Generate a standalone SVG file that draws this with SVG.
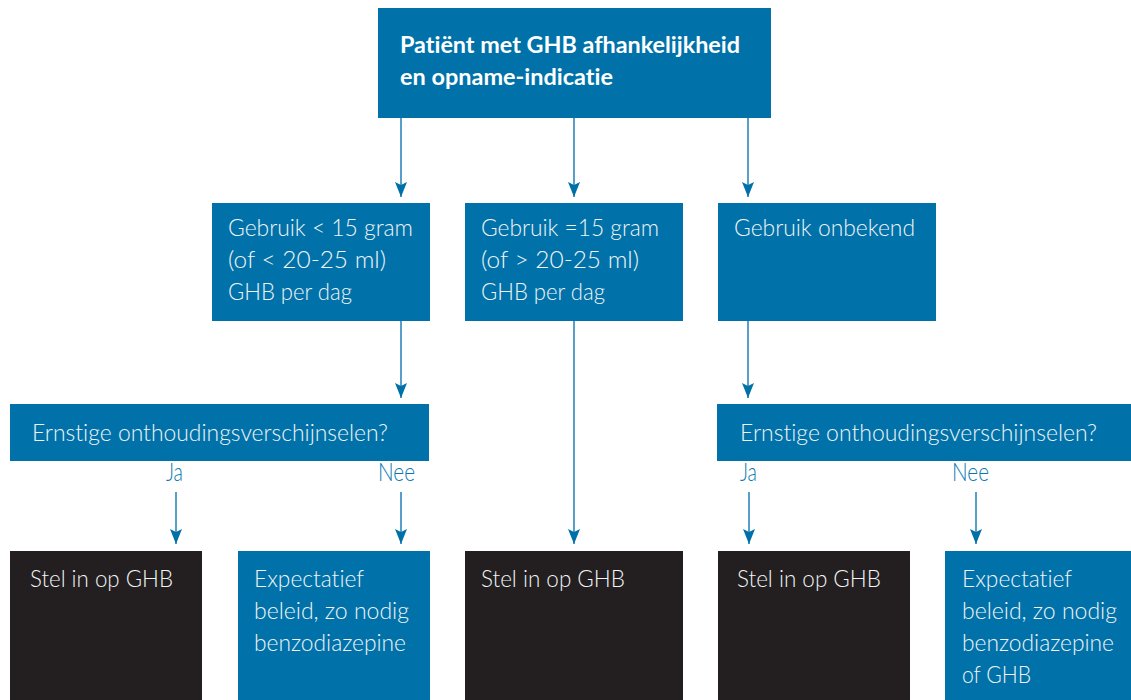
<svg xmlns="http://www.w3.org/2000/svg" width="1131" height="700" viewBox="0 0 1131 700">
<defs>
<marker id="ah" markerUnits="userSpaceOnUse" viewBox="0 -7 16 14" markerWidth="16" markerHeight="14" refX="15" refY="0" orient="auto">
<path d="M0,-6 L15,0 L0,6 L3,0 Z" fill="#0071a8"/>
</marker>
<style>
.blue{fill:#0072a9}
.dark{fill:#231f20}
text{font-variant-ligatures:none}
.t{font-family:Lato,"Open Sans","Liberation Sans",sans-serif;font-size:23px;font-weight:300;fill:#f2f4f6}
.tb{font-family:Lato,"Open Sans","Liberation Sans",sans-serif;font-size:23px;font-weight:bold;fill:#ffffff}
.lab{font-family:Lato,"Open Sans","Liberation Sans",sans-serif;font-size:25px;font-weight:300;fill:#0a78b0}
.c{stroke:#2e88bc;stroke-width:1.6;fill:none;marker-end:url(#ah)}
</style>
</defs>
<rect width="1131" height="700" fill="#ffffff"/>
<g id="connectors">
<line class="c" x1="401" y1="118" x2="401" y2="197"/>
<line class="c" x1="574" y1="118" x2="574" y2="197"/>
<line class="c" x1="748" y1="118" x2="748" y2="197"/>
<line class="c" x1="401" y1="321" x2="401" y2="398"/>
<line class="c" x1="748" y1="321" x2="748" y2="398"/>
<line class="c" x1="574" y1="321" x2="574" y2="544"/>
<line class="c" x1="176" y1="492" x2="176" y2="544"/>
<line class="c" x1="401" y1="492" x2="401" y2="544"/>
<line class="c" x1="749" y1="492" x2="749" y2="544"/>
<line class="c" x1="976" y1="492" x2="976" y2="544"/>
<text class="lab" x="166" y="481" textLength="17" lengthAdjust="spacingAndGlyphs">Ja</text>
<text class="lab" x="378" y="481" textLength="37" lengthAdjust="spacingAndGlyphs">Nee</text>
<text class="lab" x="740" y="481" textLength="17" lengthAdjust="spacingAndGlyphs">Ja</text>
<text class="lab" x="952" y="481" textLength="37" lengthAdjust="spacingAndGlyphs">Nee</text>
</g>
<g id="start">
<rect class="blue" x="378" y="8" width="393" height="110"/>
<text class="tb" x="400" y="53" textLength="340" lengthAdjust="spacingAndGlyphs">Patiënt met GHB afhankelijkheid</text>
<text class="tb" x="400" y="85" textLength="213" lengthAdjust="spacingAndGlyphs">en opname-indicatie</text>
</g>
<g id="lt15">
<rect class="blue" x="212" y="203" width="218" height="118"/>
<text class="t" x="228" y="236" textLength="185" lengthAdjust="spacingAndGlyphs">Gebruik &lt; 15 gram</text>
<text class="t" x="228" y="268" textLength="158" lengthAdjust="spacingAndGlyphs">(of &lt; 20-25 ml)</text>
<text class="t" x="228" y="300" textLength="124" lengthAdjust="spacingAndGlyphs">GHB per dag</text>
</g>
<g id="ge15">
<rect class="blue" x="465" y="203" width="218" height="118"/>
<text class="t" x="481" y="236" textLength="178" lengthAdjust="spacingAndGlyphs">Gebruik =15 gram</text>
<text class="t" x="481" y="268" textLength="158" lengthAdjust="spacingAndGlyphs">(of &gt; 20-25 ml)</text>
<text class="t" x="481" y="300" textLength="124" lengthAdjust="spacingAndGlyphs">GHB per dag</text>
</g>
<g id="onbekend">
<rect class="blue" x="718" y="203" width="218" height="118"/>
<text class="t" x="734" y="236" textLength="181" lengthAdjust="spacingAndGlyphs">Gebruik onbekend</text>
</g>
<g id="q1">
<rect class="blue" x="10" y="404" width="419" height="57"/>
<text class="t" x="32" y="441" textLength="356" lengthAdjust="spacingAndGlyphs">Ernstige onthoudingsverschijnselen?</text>
</g>
<g id="q2">
<rect class="blue" x="717" y="404" width="414" height="57"/>
<text class="t" x="740" y="441" textLength="357" lengthAdjust="spacingAndGlyphs">Ernstige onthoudingsverschijnselen?</text>
</g>
<g id="r1">
<rect class="dark" x="10" y="551" width="192" height="149"/>
<text class="t" x="30" y="587" textLength="143" lengthAdjust="spacingAndGlyphs">Stel in op GHB</text>
</g>
<g id="r2">
<rect class="blue" x="238" y="551" width="192" height="149"/>
<text class="t" x="254" y="587" textLength="110" lengthAdjust="spacingAndGlyphs">Expectatief</text>
<text class="t" x="254" y="619" textLength="155" lengthAdjust="spacingAndGlyphs">beleid, zo nodig</text>
<text class="t" x="254" y="651" textLength="152" lengthAdjust="spacingAndGlyphs">benzodiazepine</text>
</g>
<g id="r3">
<rect class="dark" x="465" y="551" width="218" height="149"/>
<text class="t" x="481" y="587" textLength="144" lengthAdjust="spacingAndGlyphs">Stel in op GHB</text>
</g>
<g id="r4">
<rect class="dark" x="718" y="551" width="192" height="149"/>
<text class="t" x="737" y="587" textLength="144" lengthAdjust="spacingAndGlyphs">Stel in op GHB</text>
</g>
<g id="r5">
<rect class="blue" x="945" y="551" width="186" height="149"/>
<text class="t" x="962" y="587" textLength="110" lengthAdjust="spacingAndGlyphs">Expectatief</text>
<text class="t" x="962" y="619" textLength="155" lengthAdjust="spacingAndGlyphs">beleid, zo nodig</text>
<text class="t" x="962" y="651" textLength="152" lengthAdjust="spacingAndGlyphs">benzodiazepine</text>
<text class="t" x="962" y="683" textLength="69" lengthAdjust="spacingAndGlyphs">of GHB</text>
</g>
</svg>
